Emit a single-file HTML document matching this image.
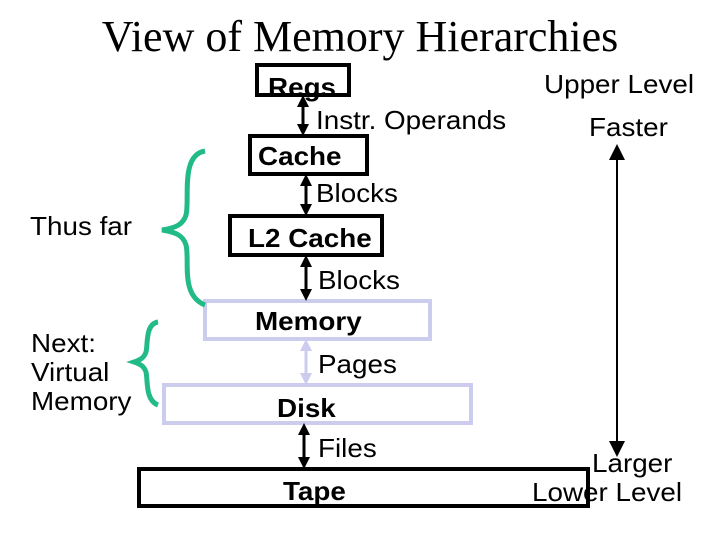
<!DOCTYPE html>
<html><head><style>
body{margin:0;width:720px;height:540px;background:#fff;position:relative;overflow:hidden;font-family:"Liberation Sans",sans-serif}
.t{position:absolute;white-space:nowrap;line-height:1;font-size:26px;transform:scaleX(1.07);transform-origin:left top}
.b{position:absolute;box-sizing:border-box;border:4px solid #000;font-weight:bold;font-size:26px;text-align:left;white-space:nowrap}
.b span{display:inline-block;transform:scaleX(1.07);transform-origin:left}
.l{border-color:#ccccee;border-width:4px}
</style></head><body>
<div class="t" style="left:0;width:720px;text-align:center;top:15px;font-family:'Liberation Serif',serif;font-size:44px;transform:none">View of Memory Hierarchies</div>
<div class="b" style="left:255px;top:63px;width:96px;height:34px;line-height:40px;padding-left:9px"><span>Regs</span></div>
<div class="b" style="left:248px;top:134px;width:121px;height:42px;line-height:36px;padding-left:6px"><span>Cache</span></div>
<div class="b" style="left:228px;top:214px;width:156px;height:43px;line-height:40px;padding-left:16px"><span>L2 Cache</span></div>
<div class="b l" style="left:203px;top:299px;width:229px;height:42px;line-height:36px;padding-left:48px"><span>Memory</span></div>
<div class="b l" style="left:162px;top:383px;width:311px;height:42px;line-height:42px;padding-left:111px"><span>Disk</span></div>
<div class="b" style="left:137px;top:467px;width:453px;height:41px;line-height:41px;padding-left:142px"><span>Tape</span></div>
<div class="t" style="left:316px;top:107px">Instr. Operands</div>
<div class="t" style="left:316px;top:180px">Blocks</div>
<div class="t" style="left:318px;top:267px">Blocks</div>
<div class="t" style="left:318px;top:351px">Pages</div>
<div class="t" style="left:318px;top:435px">Files</div>
<div class="t" style="left:30px;top:213px">Thus far</div>
<div class="t" style="left:31px;top:329px;line-height:29px">Next:<br>Virtual<br>Memory</div>
<div class="t" style="left:544px;top:71px">Upper Level</div>
<div class="t" style="left:589px;top:114px">Faster</div>
<div class="t" style="left:592px;top:450px">Larger</div>
<div class="t" style="left:532px;top:479px">Lower Level</div>
<svg width="720" height="540" style="position:absolute;left:0;top:0">
<defs>
<marker id="a" markerWidth="4" markerHeight="4" refX="2" refY="2" orient="auto-start-reverse"><path d="M0,0L4,2L0,4z" fill="#000"/></marker>
<marker id="c" markerWidth="4" markerHeight="4" refX="2" refY="2" orient="auto-start-reverse"><path d="M0,0L4,2L0,4z" fill="#ccccee"/></marker>
<marker id="r" markerWidth="8" markerHeight="8" refX="7" refY="4" orient="auto-start-reverse"><path d="M0,0L8,4L0,8z" fill="#000"/></marker>
</defs>
<g stroke="#000" stroke-width="3">
<line x1="303" y1="101" x2="303" y2="130" marker-start="url(#a)" marker-end="url(#a)"/>
<line x1="306" y1="180" x2="306" y2="210" marker-start="url(#a)" marker-end="url(#a)"/>
<line x1="306" y1="261" x2="306" y2="295" marker-start="url(#a)" marker-end="url(#a)"/>
<line x1="306" y1="345" x2="306" y2="379" stroke="#ccccee" marker-start="url(#c)" marker-end="url(#c)"/>
<line x1="304" y1="429" x2="304" y2="463" marker-start="url(#a)" marker-end="url(#a)"/>
<line x1="617" y1="146" x2="617" y2="455" stroke-width="2" marker-start="url(#r)" marker-end="url(#r)"/>
</g>
<g fill="none" stroke="#22bb88" stroke-width="5">
<path d="M205,151 C180,155 190,200 186,215 C183,225 175,228 162,230 C175,232 183,235 186,245 C190,260 180,295 205,305"/>
<path d="M158,322 C145,324 148,345 146,352 C144,358 140,360 134,362 C140,364 144,366 146,372 C148,380 145,400 158,405"/>
</g>
</svg>
</body></html>
